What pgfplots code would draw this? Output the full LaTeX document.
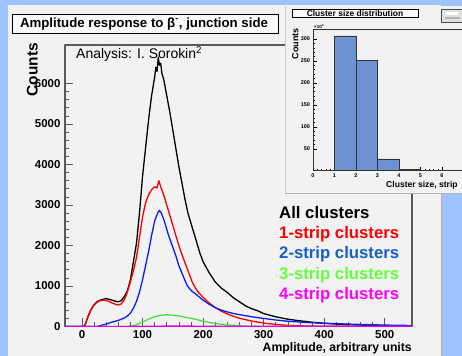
\documentclass[border=0pt]{standalone}
\usepackage{pgfplots}
\pgfplotsset{compat=1.18}
\usepackage{fontspec}
\setmainfont{Liberation Sans}
\definecolor{bgblue}{RGB}{158,196,255}
\definecolor{panel}{RGB}{242,242,242}
\definecolor{edgepink}{RGB}{205,165,175}
\definecolor{cred}{RGB}{250,0,0}
\definecolor{cblue}{RGB}{10,30,235}
\definecolor{lblue}{RGB}{20,95,200}
\definecolor{cgreen}{RGB}{70,225,60}
\definecolor{lgreen}{RGB}{100,255,60}
\definecolor{cmag}{RGB}{225,0,225}
\definecolor{lmag}{RGB}{255,0,255}
\definecolor{barblue}{RGB}{110,145,210}
\definecolor{framegray}{RGB}{90,90,90}
\begin{document}
\begin{tikzpicture}
\path[use as bounding box] (0bp,0bp) rectangle (462bp,356bp);
\clip (0bp,0bp) rectangle (462bp,356bp);
\fill[bgblue] (0bp,0bp) rectangle (462bp,356bp);
\fill[panel] (8bp,-5bp) rectangle (442bp,351bp);
\draw[edgepink, line width=1bp] (441.5bp,-5bp) -- (441.5bp,351bp);
\begin{axis}[
  at={(65bp,29.5bp)}, anchor=south west, scale only axis,
  width=347bp, height=281.5bp,
  xmin=-28, xmax=545, ymin=0, ymax=6950,
  xtick={0,100,...,500}, ytick={0,1000,...,6000},
  minor tick num=4,
  tick align=inside, xtick pos=lower, ytick pos=left,
  major tick length=8bp, minor tick length=4bp,
  tick style={framegray, line width=0.6bp},
  axis line style={framegray, line width=1.2bp},
  /pgf/number format/assume math mode=true,
  /pgf/number format/set thousands separator={},
  ticklabel style={font=\bfseries\fontsize{11.5}{11.5}\selectfont},
  xticklabel style={yshift=-0.5bp},
  yticklabel style={xshift=-1bp},
  line join=round,
]
\addplot[black, line width=1.3bp] coordinates {
(-28,0)(0,0)(5,30)(10,250)(15,420)(20,540)(25,610)(30,650)(35,670)(40,690)(45,670)
(50,650)(55,625)(60,610)(65,640)(70,740)(75,880)(80,1150)(85,1600)(90,2050)(95,2800)
(100,3700)(105,4400)(110,5100)(115,5700)(120,6150)(122,6400)(124,6300)(126,6650)(128,6450)
(130,6500)(132,6250)(135,6100)(140,5700)(145,5300)(150,4850)(155,4400)(160,3950)(165,3550)
(170,3150)(175,2800)(180,2550)(185,2300)(190,2050)(195,1800)(200,1600)(210,1330)(220,1100)
(230,950)(240,840)(250,710)(260,610)(270,510)(280,440)(290,390)(300,320)(320,240)(340,180)
(360,140)(380,105)(400,80)(420,60)(440,45)(460,35)(480,25)(500,18)(520,12)(545,8)};
\addplot[cred, line width=1.3bp] coordinates {
(-28,0)(0,0)(5,30)(10,240)(15,410)(20,530)(25,600)(30,640)(35,650)(40,640)(45,615)
(50,580)(55,550)(60,530)(65,560)(70,660)(75,850)(80,1100)(85,1380)(90,1700)(95,2200)
(100,2700)(105,3050)(110,3250)(115,3380)(120,3450)(124,3420)(127,3600)(130,3450)(135,3250)
(140,3000)(145,2750)(150,2500)(155,2250)(160,2000)(165,1780)(172,1500)(177,1300)(182,1100)
(187,960)(192,850)(200,720)(210,580)(220,470)(230,380)(240,310)(250,250)(260,205)(270,170)
(280,135)(290,110)(300,85)(320,50)(340,28)(360,15)(400,5)(450,2)(545,0)};
\addplot[cblue, line width=1.3bp] coordinates {
(-28,0)(25,0)(30,20)(40,60)(50,110)(60,150)(70,210)(75,260)(80,330)(85,450)(90,620)
(95,850)(100,1150)(105,1500)(110,1850)(115,2250)(120,2600)(125,2800)(128,2870)(131,2800)
(135,2650)(138,2500)(143,2250)(149,2000)(155,1750)(160,1500)(167,1250)(174,1000)(181,880)
(188,800)(200,650)(210,550)(222,450)(235,380)(250,320)(265,280)(280,240)(300,200)(320,160)
(340,130)(370,100)(400,80)(450,55)(500,35)(545,25)};
\addplot[cgreen, line width=1.3bp] coordinates {
(-28,0)(75,0)(80,5)(90,40)(100,110)(110,180)(120,240)(130,275)(140,290)(150,280)(160,260)
(170,230)(180,205)(190,170)(200,130)(210,100)(220,75)(230,55)(240,40)(250,28)(260,18)
(270,10)(280,5)(300,0)(545,0)};
\addplot[cmag, line width=1.3bp] coordinates {
(-28,0)(60,0)(100,6)(150,10)(200,8)(250,6)(300,5)(400,4)(545,3)};
\end{axis}
\node[anchor=base west, inner sep=0, font=\fontsize{14}{14}\selectfont] at (76bp,297.7bp) {Analysis: I. Sorokin\textsuperscript{2}};
\node[rotate=90, anchor=base east, inner sep=0, font=\bfseries\fontsize{15.5}{15.5}\selectfont] at (37.5bp,313bp) {Counts};
\node[anchor=base east, inner sep=0, font=\bfseries\fontsize{12.3}{12.3}\selectfont] at (412bp,4.5bp) {Amplitude, arbitrary units};
\begin{scope}[font=\bfseries\fontsize{16.8}{16.8}\selectfont]
\node[anchor=base west, inner sep=0, black] at (279bp,137.7bp) {All clusters};
\node[anchor=base west, inner sep=0, cred] at (279bp,117.4bp) {1-strip clusters};
\node[anchor=base west, inner sep=0, lblue] at (279bp,97bp) {2-strip clusters};
\node[anchor=base west, inner sep=0, lgreen] at (279bp,76.8bp) {3-strip clusters};
\node[anchor=base west, inner sep=0, lmag] at (279bp,56.5bp) {4-strip clusters};
\end{scope}
% title box main
\draw[black, line width=0.8bp, fill=gray!4] (12bp,323bp) rectangle (278bp,342bp);
\node[font=\bfseries\fontsize{13.3}{13.3}\selectfont, inner sep=0] at (144bp,332.3bp) {Amplitude response to β\textsuperscript{-}, junction side};
% inset panel
\fill[panel] (285bp,163bp) rectangle (470bp,350bp);
\draw[gray!60, line width=0.8bp] (285bp,163bp) -- (470bp,163bp);
\draw[gray!40, line width=0.6bp] (285bp,163bp) -- (285bp,350bp);
\begin{axis}[
  at={(313bp,185.3bp)}, anchor=south west, scale only axis,
  width=161.25bp, height=141.4bp,
  xmin=0, xmax=7.5, ymin=0, ymax=322,
  xtick={0,1,...,6}, ytick={50,100,...,300},
  minor tick num=4,
  tick align=inside, xtick pos=lower, ytick pos=left,
  major tick length=4bp, minor tick length=2bp,
  tick style={black, line width=0.4bp},
  axis line style={black!80, line width=0.6bp},
  /pgf/number format/assume math mode=true,
  ticklabel style={font=\bfseries\fontsize{5.5}{5.5}\selectfont},
  xticklabel style={yshift=0.5bp},
  yticklabel style={xshift=0.5bp},
]
\addplot[ybar interval, fill=barblue, draw=black!80, line width=0.6bp] coordinates {
(1,307)(2,251)(3,27)(4,3)(5,0.6)(6,0.6)};
\end{axis}
\node[font=\bfseries\fontsize{4.5}{4.5}\selectfont, inner sep=0, anchor=south west] at (314bp,327.5bp) {×10\textsuperscript{3}};
\node[rotate=90, anchor=base east, inner sep=0, font=\bfseries\fontsize{9}{9}\selectfont] at (298.3bp,328bp) {Counts};
\node[anchor=base west, inner sep=0, font=\bfseries\fontsize{8.6}{8.6}\selectfont] at (386bp,168.5bp) {Cluster size, strip};
\draw[black, line width=0.6bp, fill=gray!4] (292bp,338.7bp) rectangle (418bp,347bp);
\node[font=\bfseries\fontsize{8.5}{8.5}\selectfont, inner sep=0] at (355bp,342.8bp) {Cluster size distribution};
\draw[black!70, line width=0.5bp, fill=gray!25] (441bp,334bp) rectangle (470bp,347bp);
\fill[gray!60] (445bp,337bp) rectangle (460bp,339bp);
\fill[white] (445bp,341bp) rectangle (458bp,344bp);
\end{tikzpicture}
\end{document}
